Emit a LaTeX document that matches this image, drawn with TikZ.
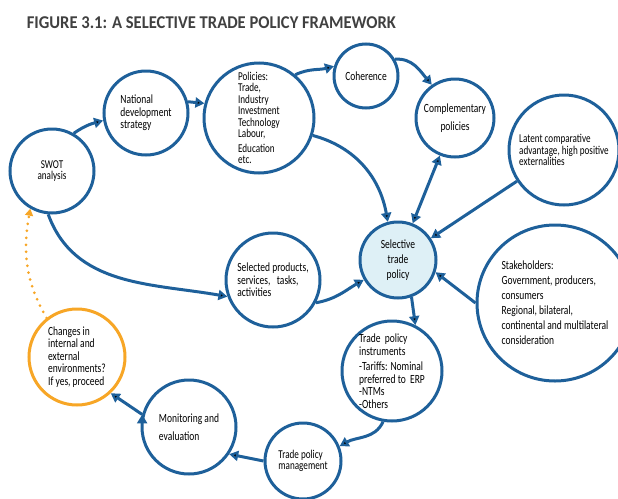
\documentclass[tikz,border=0pt]{standalone}
\usepackage{fontspec}
\setmainfont{Carlito}[FakeStretch=0.76]
\newfontfamily\titlefont{Carlito}[FakeStretch=0.92]
\usetikzlibrary{arrows.meta}

\definecolor{policyblue}{RGB}{30,96,154}
\definecolor{reviewgold}{RGB}{247,166,38}
\definecolor{corefill}{RGB}{222,240,246}
\definecolor{titlegrey}{RGB}{64,64,64}

\begin{document}
\begin{tikzpicture}[x=1pt,y=1pt,
					>={Triangle[length=9pt,width=10pt]},
					%shorten >=1pt,
					line width=3pt,
					main node/.style={circle,draw=policyblue,fill=white,line width=3pt,
					                  inner sep=0pt,align=left,
					                  font=\fontsize{12.5}{12.5}\selectfont},
					tight/.style={font=\fontsize{12}{11.5}\selectfont},
					loose/.style={font=\fontsize{12.5}{15}\selectfont},
					flow/.style={->,draw=policyblue}]

  \useasboundingbox (0,0) rectangle (618,-498);

  \node[anchor=base west,text=titlegrey,font=\titlefont\bfseries\fontsize{18}{18}\selectfont]
    (title) at (22,-28) {FIGURE 3.1: A SELECTIVE TRADE POLICY FRAMEWORK};

  \node[main node,tight,align=center,minimum size=84pt] (swot) at (52,-171) {SWOT\\analysis};
  \node[main node,minimum size=84pt] (nat) at (146,-113) {National\\development\\strategy};
  \node[main node,tight,minimum size=110pt] (pol) at (259,-118)
    {Policies:\\Trade,\\Industry\\Investment\\Technology\\Labour,\\[3pt]Education\\etc.};
  \node[main node,minimum size=64pt] (coh) at (366,-76) {Coherence};
  \node[main node,align=center,minimum size=78pt,font=\fontsize{12.5}{18}\selectfont]
    (comp) at (455,-118) {Complementary\\policies};
  \node[main node,tight,minimum size=110pt] (lat) at (564,-150)
    {Latent comparative\\advantage, high positive\\externalities};
  \node[main node,loose,align=center,fill=corefill,minimum size=76pt] (sel) at (398,-260)
    {Selective\\trade\\policy};
  \node[main node,minimum size=94pt] (prod) at (273,-280)
    {Selected products,\\services,\ \ \ tasks,\\activities};
  \node[main node,loose,minimum size=156pt] (stake) at (555,-303)
    {Stakeholders:\\Government, producers,\\consumers\\Regional, bilateral,\\continental and multilateral\\consideration};
  \node[main node,minimum size=100pt] (instr) at (392,-371)
    {Trade\ \ policy\\instruments\\[3pt]-Tariffs: Nominal\\preferred to\ \ ERP\\-NTMs\\-Others};
  \node[main node,tight,minimum size=76pt] (mgmt) at (303,-461) {Trade policy\\management};
  \node[main node,minimum size=94pt,font=\fontsize{12.5}{18}\selectfont] (mon) at (189,-427)
    {Monitoring and\\evaluation};
  \node[main node,draw=reviewgold,minimum size=96pt] (chg) at (77,-357)
    {Changes in\\internal and\\external\\environments?\\If yes, proceed};

  \path[flow]
    (swot.60)  edge[out=35,in=195]   (nat.190)
    (nat.15)   edge                  (pol.165)
    (pol.50)   edge[out=25,in=195]   (coh.163)
    (coh.30)   edge[out=5,in=130]    (comp.125)
    (comp)     edge[<->]             (sel)
    (pol.-18)  edge[out=-15,in=100]  (sel.105)
    (lat)      edge                  (sel)
    (swot.-95) edge[out=-70,in=170]  (prod.200)
    (prod.-28) edge[out=10,in=210]   (sel.210)
    (stake.180) edge                 (sel.-18)
    (sel.-70)  edge                  (instr.63)
    (instr.-100) edge[out=-115,in=30] (mgmt.22)
    (mgmt.180) edge                  (mon.-34)
    (mon.165)  edge                  (chg.-47);

  % loop back to the start once the environment changes
  \draw[->,draw=reviewgold,line cap=round,dash pattern=on 0pt off 7pt,
        >={Triangle[length=7pt,width=8pt]}]
    (chg.128) to[out=120,in=-100] (swot.240);
\end{tikzpicture}
\end{document}
